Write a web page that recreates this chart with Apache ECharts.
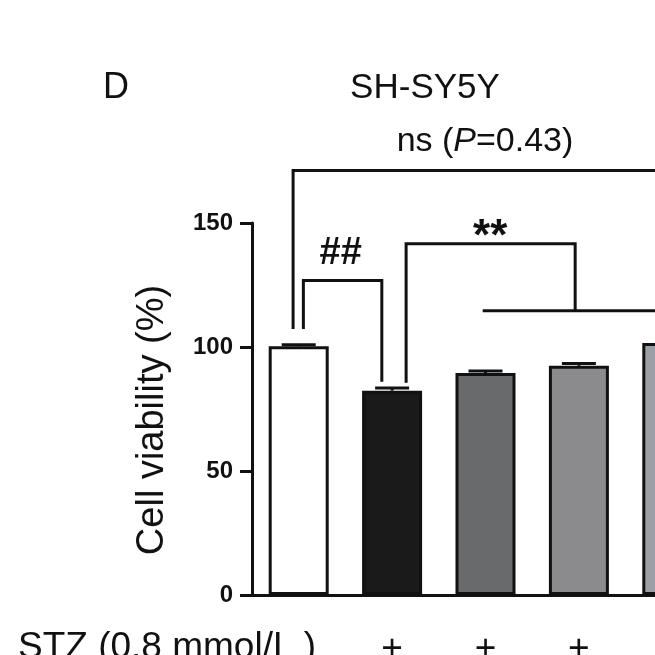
<!DOCTYPE html>
<html>
<head>
<meta charset="utf-8">
<script src="https://cdn.jsdelivr.net/npm/echarts@6/dist/echarts.min.js"></script>
<style>
  html, body { margin: 0; padding: 0; background: #fff; }
  #chart { width: 655px; height: 655px; }
</style>
</head>
<body>
<div id="chart"></div>
<script>
// data
const groups = ['ctrl', 'stz1', 'stz2', 'stz3', 'stz4']
const stzMarks = ['', '+', '+', '+', '+']
const viability = [100.3, 82.4, 89.5, 92.4, 101.6]
const sem = [0.6, 1.1, 0.8, 0.9, 0.8]
const yTicks = [0, 50, 100, 150]

// significance brackets, [groupIndex, value] points
const brackets = [
  [[-0.06, 107.3], [-0.06, 171.2], [5.2, 171.2]],              // ns
  [[0.05, 107.3], [0.05, 126.8], [0.89, 126.8], [0.89, 86.0]], // ##
  [[1.15, 85.6], [1.15, 141.6], [2.96, 141.6], [2.96, 114.6]], // **
  [[1.97, 114.6], [5.2, 114.6]]
]
const bracketLabels = [
  {x: 0.45, y: 137.5, text: '##', size: 38},
  {x: 2.05, y: 144.0, text: '**', size: 44}
]

const barColors = ['#ffffff', '#1a1a1a', '#696a6c', '#8b8b8d', '#9d9fa7']
const font = '"Liberation Sans", Arial, sans-serif'

const chart = echarts.init(document.getElementById('chart'))

const option = {
  animation: false,
  backgroundColor: '#fff',
  grid: {left: 252, top: 223, right: -64, bottom: 60, outerBoundsMode: 'none', containLabel: false},
  xAxis: [{
    type: 'category',
    data: groups,
    axisLine: {lineStyle: {color: '#111', width: 3}},
    axisTick: {alignWithLabel: true, length: 12, lineStyle: {color: '#111', width: 3}},
    axisLabel: {
      formatter: (v, i) => stzMarks[i],
      color: '#111', fontFamily: font, fontSize: 37, margin: 36
    }
  }, {
    type: 'value', min: -0.5, max: 4.5, show: false
  }],
  yAxis: {
    type: 'value', min: 0, max: 150, interval: 50,
    axisLine: {show: true, onZero: false, lineStyle: {color: '#111', width: 3}},
    axisTick: {show: true, length: 12, lineStyle: {color: '#111', width: 3}},
    axisLabel: {
      color: '#111', fontFamily: font, fontSize: 24, fontWeight: 'bold', margin: 19,
      formatter: v => yTicks.includes(v) ? String(v) : ''
    },
    splitLine: {show: false}
  },
  series: [{
    type: 'bar',
    barWidth: 60,
    data: viability.map((v, i) => ({
      value: v,
      itemStyle: {color: barColors[i], borderColor: '#111', borderWidth: 3}
    })),
    z: 2
  }, {
    type: 'custom',
    data: viability.map((v, i) => [i, v, sem[i]]),
    renderItem: (params, api) => {
      const top = api.coord([api.value(0), api.value(1) + api.value(2)])
      const base = api.coord([api.value(0), api.value(1)])
      return {
        type: 'group',
        children: [
          {type: 'line', shape: {x1: base[0], y1: base[1], x2: top[0], y2: top[1]},
           style: {stroke: '#111', lineWidth: 3}},
          {type: 'line', shape: {x1: top[0] - 17, y1: top[1], x2: top[0] + 17, y2: top[1]},
           style: {stroke: '#111', lineWidth: 3}}
        ]
      }
    },
    z: 3
  }, {
    type: 'custom',
    xAxisIndex: 1,
    clip: false,
    data: brackets.map((b, i) => [i]),
    renderItem: (params, api) => {
      const pts = brackets[params.dataIndex].map(p => api.coord(p))
      return {
        type: 'polyline',
        shape: {points: pts},
        style: {stroke: '#111', lineWidth: 3, fill: null}
      }
    },
    z: 4
  }, {
    type: 'custom',
    xAxisIndex: 1,
    clip: false,
    data: bracketLabels.map(l => [l.x, l.y]),
    renderItem: (params, api) => {
      const p = api.coord([api.value(0), api.value(1)])
      const l = bracketLabels[params.dataIndex]
      return {
        type: 'text',
        x: p[0], y: p[1],
        style: {
          text: l.text,
          fill: '#111', font: 'bold ' + l.size + 'px ' + font,
          align: 'center', verticalAlign: 'middle'
        }
      }
    },
    z: 4
  }],
  graphic: [
    {type: 'text', left: 103, top: 70, style: {text: 'D', fill: '#111', font: '36px ' + font}},
    {type: 'text', x: 425, y: 88, style: {text: 'SH-SY5Y', fill: '#111', font: '35px ' + font, align: 'center', verticalAlign: 'middle'}},
    {type: 'text', x: 485, y: 142, style: {
      text: '{n|ns (}{i|P}{n|=0.43)}', align: 'center', verticalAlign: 'middle',
      rich: {
        n: {fontFamily: font, fontSize: 34, fill: '#111'},
        i: {fontFamily: font, fontSize: 34, fontStyle: 'italic', fill: '#111'}
      }
    }},
    {type: 'text', x: 153, y: 420, rotation: Math.PI / 2, style: {
      text: 'Cell viability (%)', fill: '#111', font: '38px ' + font,
      align: 'center', verticalAlign: 'middle'
    }},
    {type: 'text', left: 18, top: 629, style: {text: 'STZ (0.8 mmol/L )', fill: '#111', font: '37px ' + font}}
  ]
}

chart.setOption(option)
window.onresize = () => { chart.resize() }
</script>
</body>
</html>
